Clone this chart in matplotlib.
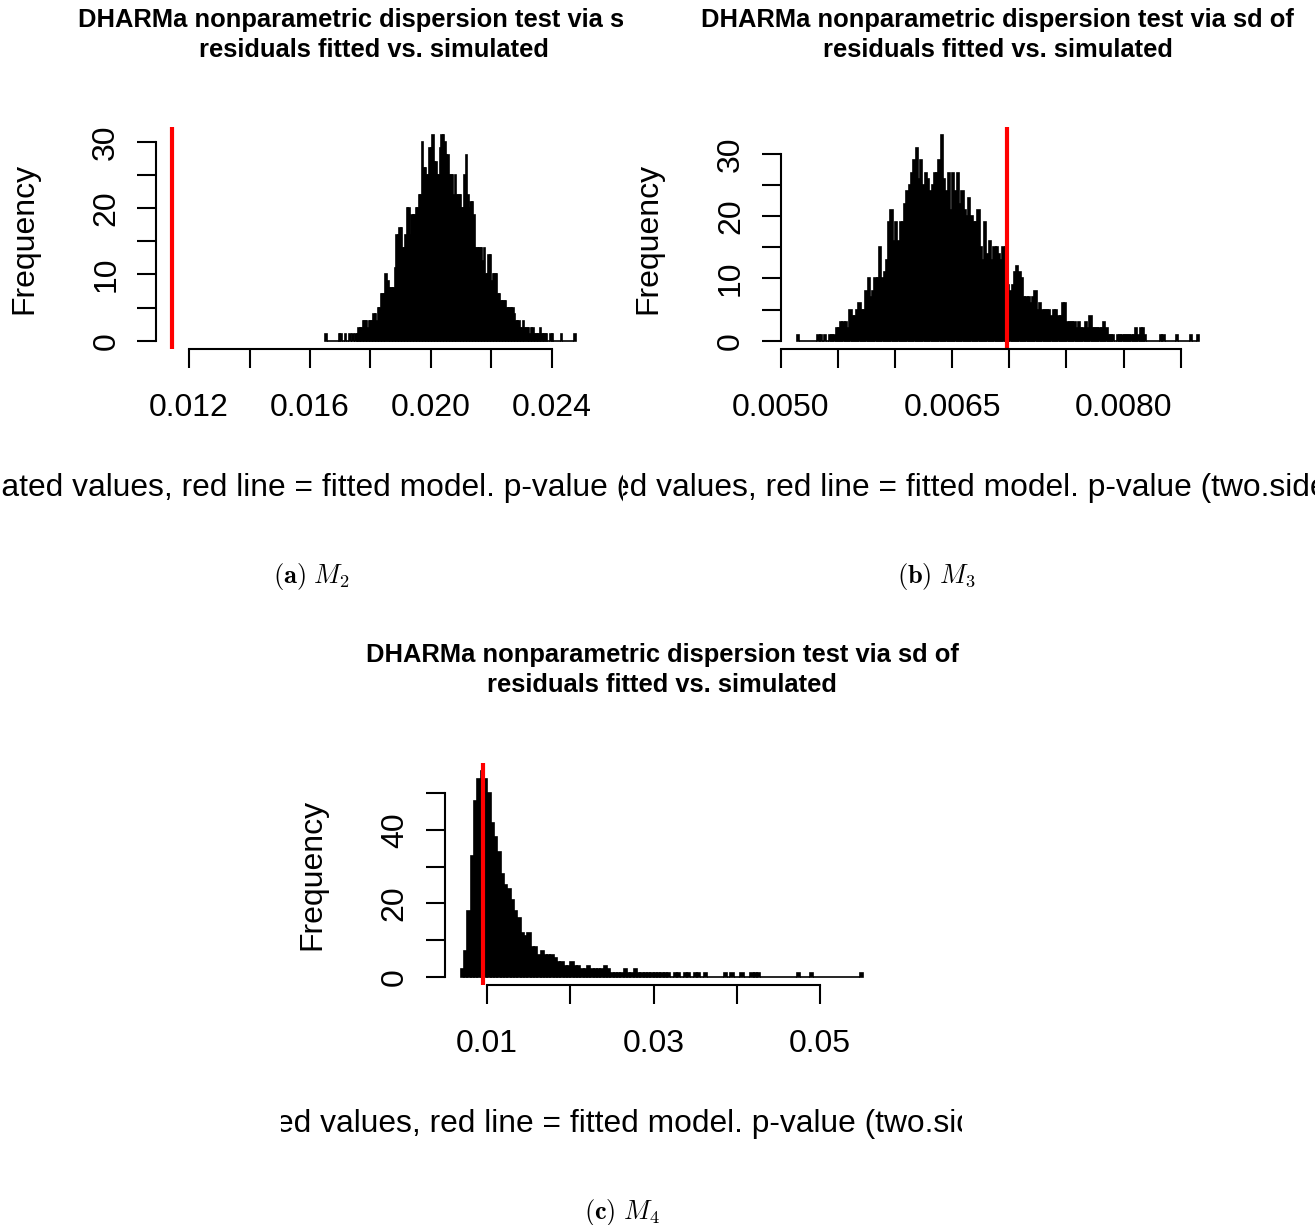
import numpy as np
import matplotlib
matplotlib.use('Agg')
import matplotlib.pyplot as plt
from matplotlib.transforms import Bbox, TransformedBbox

plt.rcParams['font.family'] = ['Liberation Sans', 'DejaVu Sans']
plt.rcParams['mathtext.fontset'] = 'cm'

W, H = 1315, 1225

# --- simulated sd of residuals, binned (M2) ---
m2_start, m2_width = 0.0165, 0.00005
m2_counts = [1, 0, 0, 0, 0, 0, 0, 0, 0, 1, 1, 0, 0, 1, 0, 0, 1, 0, 1, 0,
             1, 1, 2, 2, 2, 3, 3, 3, 2, 3, 3, 3, 4, 4, 3, 5, 5, 7, 7, 7,
             10, 9, 8, 8, 8, 8, 11, 16, 16, 17, 17, 14, 14, 16, 20, 20, 16, 19, 19, 19,
             20, 20, 22, 22, 30, 26, 26, 25, 25, 29, 29, 31, 27, 27, 25, 25, 29, 31, 31, 30,
             28, 28, 25, 25, 25, 22, 25, 22, 22, 22, 20, 20, 25, 28, 22, 20, 21, 21, 19, 14,
             14, 14, 14, 14, 12, 14, 10, 10, 13, 13, 9, 10, 10, 10, 7, 7, 6, 6, 6, 6,
             5, 5, 5, 5, 5, 4, 3, 3, 3, 2, 2, 3, 2, 2, 2, 1, 2, 2, 1, 1,
             1, 1, 2, 1, 1, 1, 1, 0, 0, 1, 1, 0, 0, 0, 0, 0, 1, 0, 0, 0,
             0, 0, 0, 0, 0, 1]
m2_observed = 0.01144
m2_pvalue = "0"

# --- M3 ---
m3_start, m3_width = 0.00514, 0.00002
m3_counts = [1, 0, 0, 0, 0, 0, 0, 0, 0, 1, 1, 0, 1, 0, 1, 1, 1, 2, 2, 3,
             3, 3, 2, 5, 4, 4, 5, 6, 5, 5, 8, 10, 7, 8, 10, 10, 15, 10, 11, 13,
             19, 21, 16, 19, 16, 19, 19, 22, 24, 25, 27, 29, 31, 26, 29, 25, 27, 26, 24, 25,
             27, 27, 29, 33, 26, 24, 27, 21, 27, 24, 27, 22, 24, 21, 20, 23, 20, 19, 19, 21,
             15, 13, 19, 14, 16, 13, 15, 15, 14, 13, 15, 15, 9, 8, 9, 11, 12, 11, 10, 7,
             7, 7, 6, 7, 8, 5, 6, 5, 5, 5, 5, 4, 5, 5, 4, 4, 6, 6, 3, 3,
             3, 3, 2, 3, 2, 2, 3, 2, 4, 2, 2, 2, 2, 2, 3, 2, 1, 1, 1, 0,
             1, 1, 1, 1, 1, 1, 1, 1, 2, 1, 2, 2, 1, 0, 0, 0, 0, 0, 0, 1,
             1, 0, 0, 0, 0, 0, 1, 0, 0, 0, 0, 0, 1, 0, 0, 1]
m3_observed = 0.006984
m3_pvalue = "0.2324"

# --- M4 ---
m4_start, m4_width = 0.0068, 0.0004
m4_counts = [2, 7, 18, 33, 48, 54, 56, 54, 50, 42, 38, 34, 28, 25, 24, 21, 18, 16, 12, 11,
             12, 8, 8, 6, 7, 6, 6, 6, 5, 4, 4, 3, 3, 4, 3, 3, 2, 2, 3, 2,
             2, 2, 2, 3, 2, 1, 1, 1, 1, 2, 1, 1, 2, 1, 1, 1, 1, 1, 1, 1,
             1, 1, 1, 0, 1, 1, 0, 1, 1, 0, 1, 1, 0, 1, 0, 0, 0, 0, 0, 1,
             0, 1, 0, 0, 1, 0, 0, 1, 1, 1, 0, 0, 0, 0, 0, 0, 0, 0, 0, 0,
             0, 1, 0, 0, 0, 1, 0, 0, 0, 0, 0, 0, 0, 0, 0, 0, 0, 0, 0, 0,
             1]
m4_observed = 0.00945
m4_pvalue = "0.3042"

TITLE1 = "DHARMa nonparametric dispersion test via sd of"
TITLE2 = "residuals fitted vs. simulated"
XLAB = "Simulated values, red line = fitted model. p-value (two.sided) = "

fig = plt.figure(figsize=(W / 100, H / 100), dpi=100)

def px_rect(left, top, right, bottom):
    return [left / W, 1 - bottom / H, (right - left) / W, (bottom - top) / H]

def px_text(x, y, s, clip, **kw):
    t = fig.text(x / W, 1 - y / H, s, **kw)
    x0, x1, y0, y1 = clip
    t.set_clip_box(TransformedBbox(Bbox([[x0 / W, 1 - y1 / H], [x1 / W, 1 - y0 / H]]), fig.transFigure))
    t.set_clip_on(True)
    return t

def panel(plot, clip, start, width, counts, observed, pvalue,
          xticks, xshow, yticks, yshow, title_y, xlab_y, caption, caption_xy):
    left, top, right, bottom = plot
    ax = fig.add_axes(px_rect(left, top, right, bottom))
    counts = np.asarray(counts, dtype=float)
    edges = start + width * np.arange(len(counts) + 1)
    ax.hist(edges[:-1], bins=edges, weights=counts, color='black',
            edgecolor='black', linewidth=1.2)
    lo, hi = min(edges[0], observed), max(edges[-1], observed)
    ax.set_xlim(lo - 0.04 * (hi - lo), hi + 0.04 * (hi - lo))
    ax.set_ylim(-0.04 * counts.max(), 1.04 * counts.max())
    ax.axvline(observed, color='#ff0000', lw=3)

    for side in ('top', 'right'):
        ax.spines[side].set_visible(False)
    ax.spines['left'].set_bounds(yticks[0], yticks[-1])
    ax.spines['bottom'].set_bounds(xticks[0], xticks[-1])
    for side in ('left', 'bottom'):
        ax.spines[side].set_linewidth(1.5)
    ax.patch.set_visible(False)

    ax.set_xticks(xticks)
    ax.set_xticklabels([l if s else '' for l, s in zip(xshow[0], xshow[1])])
    ax.set_yticks(yticks)
    ax.set_yticklabels([str(v) if v in yshow else '' for v in yticks])
    ax.tick_params(axis='both', length=14, width=1.5, labelsize=23)
    ax.tick_params(axis='x', pad=18)
    ax.tick_params(axis='y', pad=11, labelrotation=90)
    for lab in ax.get_yticklabels():
        lab.set_va('center')

    cx = (left + right) / 2
    cy = (top + bottom) / 2
    px_text(cx, title_y, TITLE1, clip, ha='center', va='baseline',
            fontsize=18.4, fontweight='bold')
    px_text(cx, title_y + 30, TITLE2, clip, ha='center', va='baseline',
            fontsize=18.4, fontweight='bold')
    px_text(cx, xlab_y, XLAB + pvalue, clip, ha='center', va='baseline', fontsize=22.9)
    px_text(left - 132, cy, "Frequency", clip, ha='center', va='center',
            rotation=90, fontsize=23)
    fig.text(caption_xy[0] / W, 1 - caption_xy[1] / H, caption,
             ha='center', va='center', fontsize=19)
    return ax

top_clip = 0, 610
panel((156, 127, 592, 349), (0, 623) + top_clip, m2_start, m2_width, m2_counts,
      m2_observed, m2_pvalue,
      [0.012, 0.014, 0.016, 0.018, 0.020, 0.022, 0.024],
      (["0.012", "", "0.016", "", "0.020", "", "0.024"], [1, 0, 1, 0, 1, 0, 1]),
      [0, 5, 10, 15, 20, 25, 30], [0, 10, 20, 30], 27, 496,
      r"$\mathbf{(a)}$ $M_2$", (311, 577))

panel((780.7, 127, 1215, 349), (623, 1315) + top_clip, m3_start, m3_width, m3_counts,
      m3_observed, m3_pvalue,
      [0.0050, 0.0055, 0.0060, 0.0065, 0.0070, 0.0075, 0.0080, 0.0085],
      (["0.0050", "", "", "0.0065", "", "", "0.0080", ""], [1, 0, 0, 1, 0, 0, 1, 0]),
      [0, 5, 10, 15, 20, 25, 30], [0, 10, 20, 30], 27, 496,
      r"$\mathbf{(b)}$ $M_3$", (936, 577))

panel((444.5, 763, 879.5, 985), (281, 962, 610, 1225), m4_start, m4_width, m4_counts,
      m4_observed, m4_pvalue,
      [0.01, 0.02, 0.03, 0.04, 0.05],
      (["0.01", "", "0.03", "", "0.05"], [1, 0, 1, 0, 1]),
      [0, 10, 20, 30, 40, 50], [0, 20, 40], 662, 1132,
      r"$\mathbf{(c)}$ $M_4$", (622, 1212))

fig.savefig('out.png', dpi=100, facecolor='white')
